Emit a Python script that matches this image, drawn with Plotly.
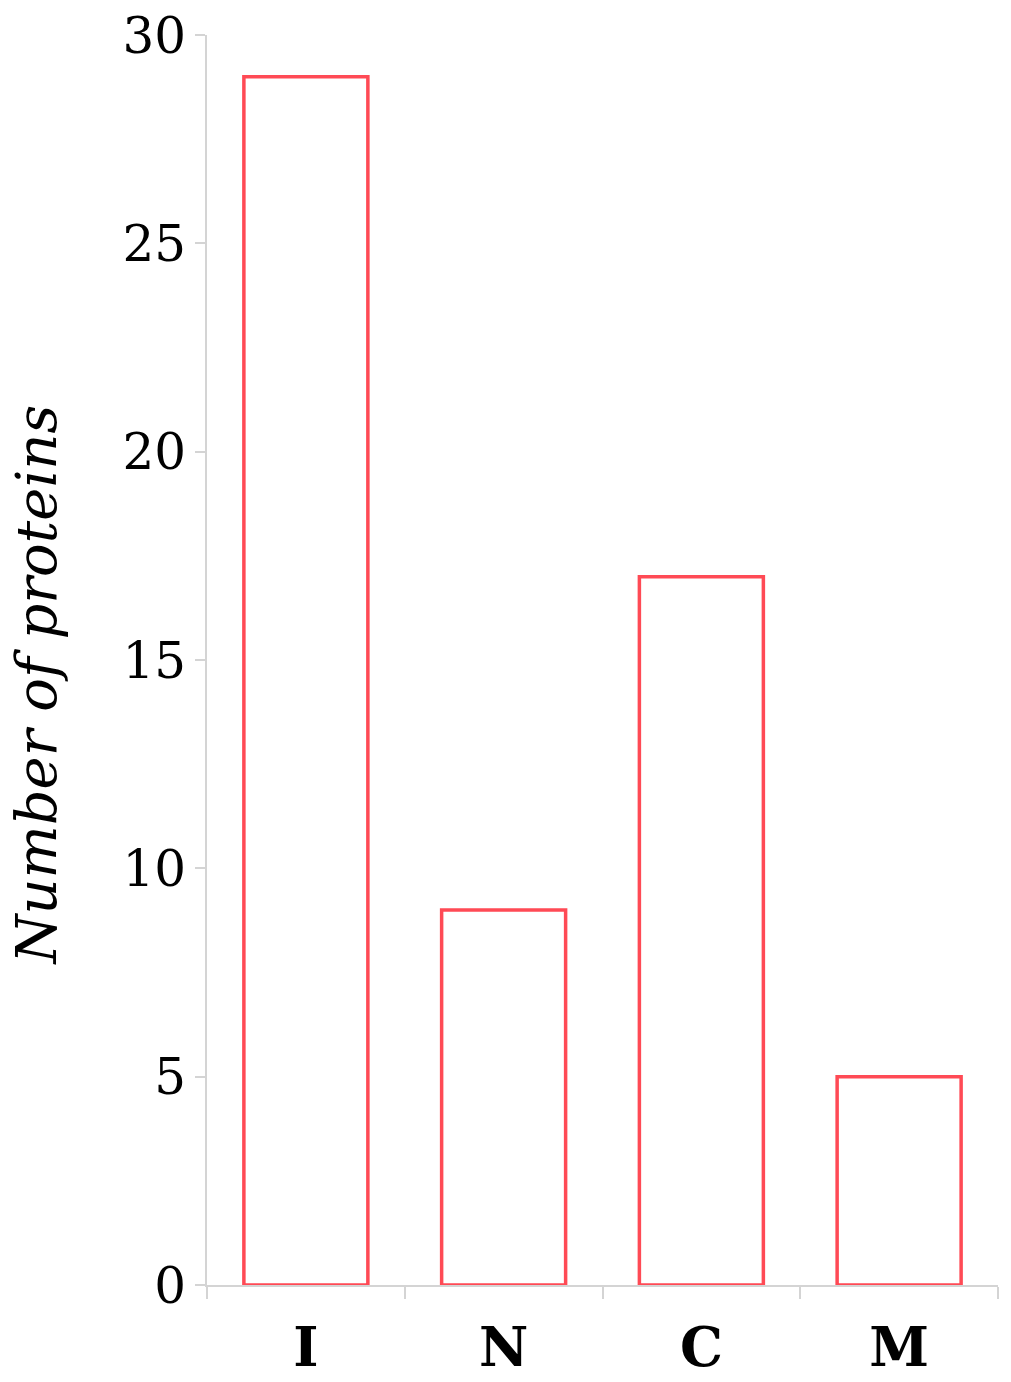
import plotly.graph_objects as go

categories = ["I", "N", "C", "M"]
counts = [29, 9, 17, 5]
y_ticks = [0, 5, 10, 15, 20, 25, 30]
y_title = "Number of proteins"

axis_gray = "#d4d4d4"
bar_red = "#ff4a55"

fig = go.Figure(
    go.Bar(
        x=categories,
        y=counts,
        marker=dict(color="white", line=dict(color=bar_red, width=3.5)),
    )
)

fig.update_layout(
    width=1011,
    height=1382,
    margin=dict(l=199, r=21, t=27, b=105),
    paper_bgcolor="white",
    plot_bgcolor="white",
    bargap=0.373,
    showlegend=False,
    font=dict(family="DejaVu Serif", color="black"),
)

fig.update_xaxes(
    showline=True,
    linecolor=axis_gray,
    linewidth=2,
    ticks="outside",
    tickson="boundaries",
    ticklen=12,
    tickwidth=2,
    tickcolor=axis_gray,
    showgrid=False,
    tickfont=dict(family="DejaVu Serif", size=54, color="black", weight="bold"),
    ticklabelstandoff=14,
    automargin=False,
)

fig.update_yaxes(
    range=[0, 30],
    tickvals=y_ticks,
    showline=True,
    linecolor=axis_gray,
    linewidth=2,
    ticks="outside",
    ticklen=10,
    tickwidth=2,
    tickcolor=axis_gray,
    showgrid=False,
    zeroline=False,
    tickfont=dict(family="DejaVu Serif", size=50, color="black"),
    ticklabelstandoff=-1,
    ticklabeloverflow="allow",
    automargin=False,
)

fig.add_annotation(
    text="<i>" + y_title + "</i>",
    textangle=-90,
    xref="paper",
    yref="paper",
    x=0,
    y=0.48,
    xanchor="right",
    yanchor="middle",
    xshift=-137,
    showarrow=False,
    font=dict(family="DejaVu Serif", size=56, color="black"),
)

fig.write_html("out.html")
